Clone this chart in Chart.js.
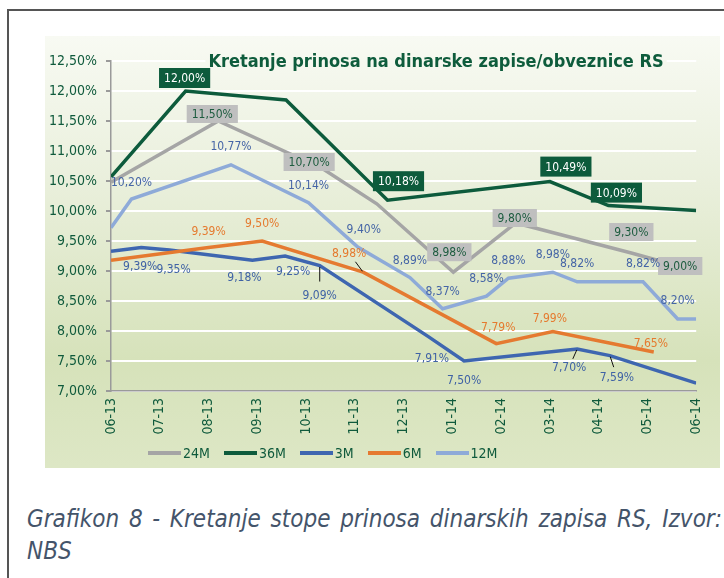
<!DOCTYPE html>
<html>
<head>
<meta charset="utf-8">
<script src="https://cdn.jsdelivr.net/npm/chart.js@4.4.1/dist/chart.umd.min.js"></script>
<style>
  body { margin: 0; width: 724px; height: 578px; background: #fff; position: relative; overflow: hidden; font-family: "DejaVu Sans Condensed", "DejaVu Sans", sans-serif; }
  #frameTop { position: absolute; left: 7px; top: 9px; right: 0; height: 2px; background: #555; }
  #frameLeft { position: absolute; left: 7px; top: 9px; bottom: 0; width: 2px; background: #555; }
  #box { position: absolute; left: 45px; top: 36px; width: 675px; height: 432px; }
  #legend { position: absolute; left: 148px; top: 445px; display: flex; align-items: center; font-size: 14px; color: #0f5a3c; }
  #legend .item { display: flex; align-items: center; margin-right: 14px; }
  #legend .swatch { width: 33px; height: 4px; margin-right: 2px; }
  #caption { position: absolute; left: 27px; top: 503px; width: 695px; font-family: "DejaVu Sans Condensed", "DejaVu Sans", sans-serif; font-style: italic; font-size: 24px; line-height: 32px; color: #44546a; text-align: justify; }
</style>
</head>
<body>
<div id="frameTop"></div>
<div id="frameLeft"></div>
<div id="box"><canvas id="c" width="675" height="432"></canvas></div>
<div id="legend"></div>
<div id="caption">Grafikon 8 - Kretanje stope prinosa dinarskih zapisa RS, Izvor: NBS</div>

<script>
// x positions are months since 06-13 (auction dates fall between month ticks)
const months = ['06-13', '07-13', '08-13', '09-13', '10-13', '11-13', '12-13', '01-14', '02-14', '03-14', '04-14', '05-14', '06-14'];

const t24 = [0, 2.2, 4.35, 5.45, 7.02, 8.3, 10.67, 12];
const v24 = [10.48, 11.50, 10.70, 10.12, 8.98, 9.80, 9.30, 9.00];

const t36 = [0, 1.53, 3.59, 5.67, 9.0, 10.2, 12];
const v36 = [10.57, 12.00, 11.85, 10.18, 10.49, 10.09, 10.01];

const t3 = [0, 0.62, 1.2, 2.9, 3.57, 4.28, 6.5, 7.24, 9.56, 10.23, 12];
const v3 = [9.33, 9.39, 9.35, 9.18, 9.25, 9.09, 7.91, 7.50, 7.70, 7.59, 7.13];

const t6 = [0, 2.0, 3.1, 5.17, 7.9, 9.06, 11.13];
const v6 = [9.18, 9.39, 9.50, 8.98, 7.79, 7.99, 7.65];

const t12 = [0, 0.42, 2.46, 4.05, 5.06, 6.13, 6.8, 7.7, 8.15, 9.06, 9.56, 10.91, 11.62, 12];
const v12 = [9.72, 10.20, 10.77, 10.14, 9.40, 8.89, 8.37, 8.58, 8.88, 8.98, 8.82, 8.82, 8.20, 8.20];

// which points get a data label, and where it sits: [index, dx, dy, leader]
const lbl24 = [[1, -6, -7], [2, -14, -7], [4, -4, -20], [5, -1, -5], [6, 0, -21], [7, -16, -5]];
const lbl36 = [[1, -1, -13], [3, 11, -19], [4, 16, -15], [5, 8, -13]];
const lbl3 = [[1, -1, 18], [2, 4, 19], [3, -8, 17], [4, 8, 15], [5, 0, 29, true], [6, 4, 21], [7, 0, 19], [8, -8, 18, true], [9, 7, 21, true]];
const lbl6 = [[1, 0, -17], [2, 0, -18], [3, -14, -19, true], [4, 2, -17], [5, -3, -14], [6, -3, -9]];
const lbl12 = [[1, 0, -17], [2, 0, -19], [3, 0, -18], [4, 6, -18], [5, 0, -18], [6, 0, -18], [7, 0, -18], [8, 0, -18], [9, 0, -18], [10, 0, -19], [11, 0, -19], [12, 0, -19]];

const series = [
  { name: '24M', t: t24, v: v24, color: '#a5a5a5', labels: lbl24, box: '#bfbfbf', text: '#1d5c3f', order: 5 },
  { name: '36M', t: t36, v: v36, color: '#0d5b3c', labels: lbl36, box: '#0d5b3c', text: '#ffffff', order: 4 },
  { name: '3M', t: t3, v: v3, color: '#3e66b0', labels: lbl3, text: '#3f62a5', order: 3 },
  { name: '6M', t: t6, v: v6, color: '#e57a30', labels: lbl6, text: '#e57a2e', order: 2 },
  { name: '12M', t: t12, v: v12, color: '#8eaad8', labels: lbl12, text: '#4565a6', order: 1 }
];

const pct = v => v.toFixed(2).replace('.', ',') + '%';

function bgGradient(ctx, h) {
  const g = ctx.createLinearGradient(0, 0, 0, h);
  g.addColorStop(0, '#f8faf3');
  g.addColorStop(0.35, '#e9efdb');
  g.addColorStop(0.75, '#d6e2ba');
  g.addColorStop(1, '#dde7c5');
  return g;
}

const background = {
  id: 'background',
  beforeDraw(chart) {
    const ctx = chart.ctx;
    ctx.save();
    ctx.fillStyle = bgGradient(ctx, chart.height);
    ctx.fillRect(0, 0, chart.width, chart.height);
    ctx.restore();
  }
};

const title = {
  id: 'innerTitle',
  beforeDatasetsDraw(chart) {
    const ctx = chart.ctx;
    const txt = 'Kretanje prinosa na dinarske zapise/obveznice RS';
    ctx.save();
    ctx.font = 'bold 18px "DejaVu Sans Condensed"';
    const w = ctx.measureText(txt).width;
    const cx = 391, cy = 26;
    ctx.fillStyle = bgGradient(ctx, chart.height);
    ctx.fillRect(cx - w / 2 - 3, cy - 8, w + 6, 16);
    ctx.fillStyle = '#0e5c3c';
    ctx.textAlign = 'center';
    ctx.textBaseline = 'middle';
    ctx.fillText(txt, cx, cy);
    ctx.restore();
  }
};

const dataLabels = {
  id: 'dataLabels',
  afterDatasetsDraw(chart) {
    const ctx = chart.ctx;
    ctx.save();
    ctx.font = '12px "DejaVu Sans Condensed"';
    ctx.textAlign = 'center';
    ctx.textBaseline = 'middle';
    chart.data.datasets.forEach((ds, di) => {
      const s = series[di];
      const meta = chart.getDatasetMeta(di);
      s.labels.forEach(([i, dx, dy, leader]) => {
        const pt = meta.data[i];
        const x = pt.x + dx, y = pt.y + dy;
        const txt = pct(s.v[i]);
        if (leader) {
          ctx.strokeStyle = '#111';
          ctx.lineWidth = 1;
          ctx.beginPath();
          ctx.moveTo(pt.x + dx * 0.05, pt.y + dy * 0.05);
          ctx.lineTo(pt.x + dx * 0.55, pt.y + dy * 0.55);
          ctx.stroke();
        }
        if (s.box) {
          const w = ctx.measureText(txt).width + 10;
          const h = s.name === '36M' ? 20 : 18;
          ctx.fillStyle = s.box;
          ctx.fillRect(x - w / 2, y - h / 2, w, h);
        }
        ctx.fillStyle = s.text;
        ctx.fillText(txt, x, y + 1);
      });
    });
    ctx.restore();
  }
};

new Chart(document.getElementById('c'), {
  type: 'line',
  data: {
    datasets: series.map(s => ({
      label: s.name,
      data: s.t.map((t, i) => ({ x: t, y: s.v[i] })),
      borderColor: s.color,
      borderWidth: 3.5,
      pointRadius: 0,
      tension: 0,
      order: s.order
    }))
  },
  options: {
    responsive: false,
    animation: false,
    layout: { padding: { top: 25, right: 14, bottom: 0, left: 0 } },
    plugins: { legend: { display: false }, tooltip: { enabled: false } },
    scales: {
      x: {
        type: 'linear',
        min: 0,
        max: 12,
        afterFit: sc => { sc.height = 77; },
        grid: { display: false, drawTicks: false },
        border: { color: '#9a9a9a', width: 1.5 },
        ticks: {
          stepSize: 1,
          autoSkip: false,
          maxRotation: 90,
          minRotation: 90,
          padding: 7,
          color: '#0f5a3c',
          font: { family: '"DejaVu Sans Condensed"', size: 14 },
          callback: v => months[v]
        }
      },
      y: {
        min: 7,
        max: 12.5,
        afterFit: sc => { sc.width = 66; },
        grid: { color: '#ffffff', lineWidth: 2, tickLength: 5, tickColor: '#9a9a9a' },
        border: { color: '#9a9a9a', width: 1.5 },
        ticks: {
          stepSize: 0.5,
          padding: 9,
          color: '#0f5a3c',
          font: { family: '"DejaVu Sans Condensed"', size: 14 },
          callback: v => pct(v)
        }
      }
    }
  },
  plugins: [background, title, dataLabels]
});

const legend = document.getElementById('legend');
series.forEach(s => {
  const item = document.createElement('div');
  item.className = 'item';
  item.innerHTML = `<span class="swatch" style="background:${s.color}"></span><span>${s.name}</span>`;
  legend.appendChild(item);
});
</script>
</body>
</html>
